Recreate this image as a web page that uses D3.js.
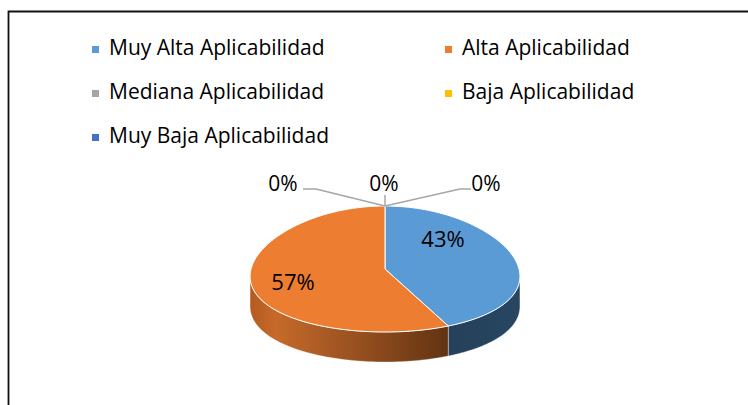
<!DOCTYPE html>
<html>
<head>
<meta charset="utf-8">
<script src="https://cdn.jsdelivr.net/npm/d3@7"></script>
<style>
  body { margin: 0; background: #fff; }
  svg { display: block; }
  text { font-family: "Open Sans", sans-serif; fill: #000; }
</style>
</head>
<body>
<svg class="chart"></svg>
<script>
const categories = ['Muy Alta Aplicabilidad', 'Alta Aplicabilidad', 'Mediana Aplicabilidad', 'Baja Aplicabilidad', 'Muy Baja Aplicabilidad'];
const values = [43, 57, 0, 0, 0];
const labels = ['43%', '57%', '0%', '0%', '0%'];
const colors = ['#5b9bd5', '#ed7d31', '#a5a5a5', '#ffc000', '#4472c4'];

const width = 748, height = 405;
const svg = d3.select('.chart').attr('width', width).attr('height', height);

// frame (runs off the right and bottom edges)
svg.append('path')
  .attr('d', 'M8.5,' + (height + 5) + ' V11.5 H' + (width + 5))
  .attr('fill', 'none').attr('stroke', '#111').attr('stroke-width', 1.8);

// legend
const legend = svg.append('g');
const col = d3.scalePoint().domain([0, 1]).range([92, 445]);
const row = d3.scalePoint().domain([0, 1, 2]).range([55, 143]);
categories.forEach((c, i) => {
  const g = legend.append('g')
    .attr('transform', 'translate(' + col(i % 2) + ',' + row(Math.floor(i / 2)) + ')');
  g.append('rect').attr('x', 0).attr('y', -9).attr('width', 7).attr('height', 7).attr('fill', colors[i]);
  g.append('text').attr('x', 17).attr('y', 0).attr('font-size', 21).text(c);
});

// 3d pie
const cx = 385, cy = 269, rx = 134, ry = 63, depth = 30, persp = 0.12;
const pie = d3.pie().sort(null).value((d) => d)(values);
const pt = (a, dz = 0) => [cx + rx * Math.sin(a) * (1 - persp * Math.cos(a)), cy - ry * Math.cos(a) + dz];

// silhouette angles (where the rim is widest)
const samples = d3.range(0, 2001).map((k) => k / 2000 * Math.PI);
const aRight = samples[d3.maxIndex(samples, (a) => pt(a)[0])];
const aLeft = 2 * Math.PI - aRight;

const defs = svg.append('defs');
const gOr = defs.append('linearGradient').attr('id', 'sideOr')
  .attr('gradientUnits', 'userSpaceOnUse').attr('x1', cx - rx).attr('x2', cx + rx * 0.55).attr('y1', 0).attr('y2', 0);
gOr.append('stop').attr('offset', '0').attr('stop-color', '#b55b22');
gOr.append('stop').attr('offset', '0.12').attr('stop-color', '#c66a2b');
gOr.append('stop').attr('offset', '1').attr('stop-color', '#5c3011');
const gBl = defs.append('linearGradient').attr('id', 'sideBl')
  .attr('gradientUnits', 'userSpaceOnUse').attr('x1', cx).attr('x2', cx + rx).attr('y1', 0).attr('y2', 0);
gBl.append('stop').attr('offset', '0').attr('stop-color', '#223b53');
gBl.append('stop').attr('offset', '1').attr('stop-color', '#284662');
const sideFill = ['url(#sideBl)', 'url(#sideOr)', '#5a5a5a', '#8a6a00', '#24406e'];

const arcPts = (a0, a1, dz) => d3.range(0, 81).map((k) => pt(a0 + (a1 - a0) * k / 80, dz));

// side walls (only the front half shows)
pie.forEach((s, i) => {
  const a0 = Math.max(s.startAngle, aRight);
  const a1 = Math.min(s.endAngle, aLeft);
  if (a1 <= a0) return;
  const top = arcPts(a0, a1, 0);
  const bot = arcPts(a1, a0, depth);
  svg.append('path')
    .attr('d', d3.line()(top.concat(bot)) + 'Z')
    .attr('fill', sideFill[i])
    .attr('stroke', '#ffffff').attr('stroke-width', 0.6).attr('stroke-opacity', 0.6);
});

// top faces
pie.forEach((s, i) => {
  if (s.endAngle - s.startAngle <= 0) return;
  const pts = [[cx, cy]].concat(arcPts(s.startAngle, s.endAngle, 0));
  svg.append('path')
    .attr('d', d3.line()(pts) + 'Z')
    .attr('fill', colors[i])
    .attr('stroke', '#ffffff').attr('stroke-width', 1);
});

// labels
const labelPos = [[443, 247], [293, 290], [283, 191], [384, 191], [486, 191]];
const labelSize = [22, 22, 21, 21, 21];
pie.forEach((s, i) => {
  svg.append('text')
    .attr('x', labelPos[i][0]).attr('y', labelPos[i][1])
    .attr('text-anchor', 'middle').attr('font-size', labelSize[i])
    .text(labels[i]);
});

// leader lines for the empty slices
const top0 = pt(0);
const leaders = [
  [[303, 189], [316, 189], top0],
  [[top0[0], 195], top0],
  [top0, [460, 189], [471, 189]]
];
leaders.forEach((l) => {
  svg.append('path').attr('d', d3.line()(l))
    .attr('fill', 'none').attr('stroke', '#a6a6a6').attr('stroke-width', 1.5);
});
</script>
</body>
</html>
